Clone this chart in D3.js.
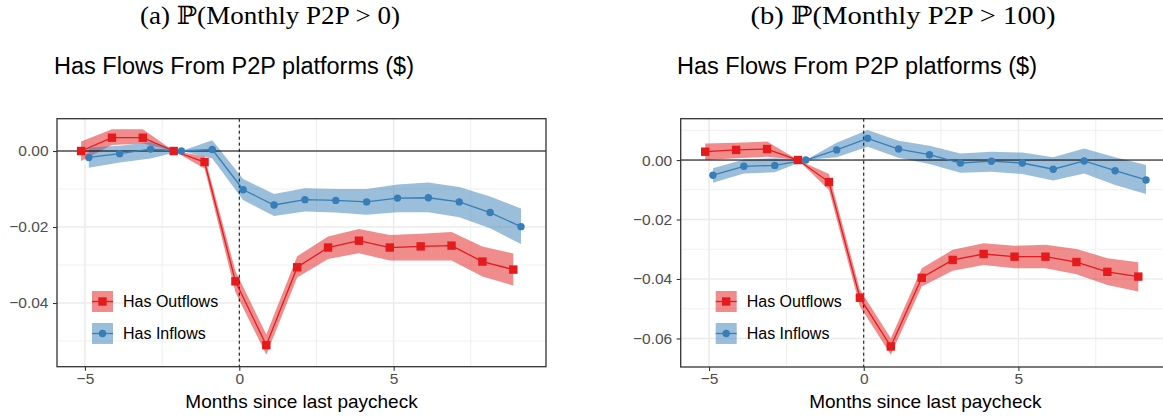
<!DOCTYPE html>
<html><head><meta charset="utf-8">
<script src="https://cdn.jsdelivr.net/npm/d3@7"></script>
<style>
html,body{margin:0;padding:0;background:#fff;}
svg{display:block;}
</style></head>
<body>
<svg id="chart" width="1163" height="417"></svg>
<script>
// ---------- data ----------
const months = [-5,-4,-3,-2,-1,0,1,2,3,4,5,6,7,8,9];
const seriesNames = ["Has Outflows","Has Inflows"];
const subTitles = ["(a) \u2119(Monthly P2P > 0)", "(b) \u2119(Monthly P2P > 100)"];
const plotTitle = "Has Flows From P2P platforms ($)";
const xLabel = "Months since last paycheck";
const xTicks = [-5,0,5];
const yTicksA = [0,-0.02,-0.04];
const yTicksB = [0,-0.02,-0.04,-0.06];

// panel (a)
const aOutEst = [0,0.0035,0.0035,0,-0.0029,-0.0343,-0.0511,-0.0306,-0.0254,-0.0236,-0.0254,-0.0251,-0.0249,-0.0291,-0.0312];
const aOutLo  = [-0.0026,0.0016,0.002,0,-0.0046,-0.0372,-0.0536,-0.0333,-0.0284,-0.0269,-0.0288,-0.0288,-0.0288,-0.033,-0.0354];
const aOutHi  = [0.0025,0.0057,0.0057,0,-0.0014,-0.0316,-0.0483,-0.0277,-0.0225,-0.0205,-0.0221,-0.0218,-0.0213,-0.0251,-0.027];
const aInEst  = [-0.0017,-0.0007,0.0005,0,0.0004,-0.0102,-0.0142,-0.0128,-0.013,-0.0134,-0.0124,-0.0123,-0.0134,-0.0162,-0.0199];
const aInLo   = [-0.0044,-0.003,-0.002,0,-0.002,-0.0129,-0.0171,-0.0159,-0.0162,-0.0168,-0.0161,-0.0161,-0.0174,-0.0203,-0.0245];
const aInHi   = [0.0009,0.0014,0.0024,0,0.0028,-0.0074,-0.0113,-0.0098,-0.01,-0.01,-0.0088,-0.0083,-0.0095,-0.012,-0.0151];

// panel (b)
const bOutEst = [0.0028,0.0034,0.0037,0,-0.0074,-0.0463,-0.0627,-0.0396,-0.0336,-0.0316,-0.0325,-0.0325,-0.0343,-0.0376,-0.0392];
const bOutLo  = [0.0,0.0006,0.0011,0,-0.0101,-0.0492,-0.0655,-0.0425,-0.0372,-0.0353,-0.0364,-0.0364,-0.0384,-0.042,-0.0442];
const bOutHi  = [0.0056,0.0058,0.0062,0,-0.0047,-0.0435,-0.0599,-0.0364,-0.0302,-0.028,-0.0288,-0.0285,-0.0299,-0.033,-0.0344];
const bInEst  = [-0.0051,-0.0021,-0.0018,0,0.0034,0.0073,0.0037,0.0018,-0.001,-0.0004,-0.001,-0.0031,-0.0003,-0.0036,-0.0067];
const bInLo   = [-0.0076,-0.0045,-0.0041,0,0.0009,0.0045,0.0008,-0.0013,-0.0043,-0.0039,-0.0047,-0.0069,-0.0045,-0.0084,-0.0114];
const bInHi   = [-0.0028,0.0002,0.0006,0,0.0058,0.0101,0.0065,0.0048,0.0022,0.0028,0.0025,0.0009,0.0039,0.0009,-0.0017];

// ---------- drawing ----------
const RED = "#E41A1C", BLUE = "#377EB8";
const SANS = "'Liberation Sans', Arial, Helvetica, sans-serif";
const SERIF = "'Liberation Serif', 'DejaVu Serif', serif";
const svg = d3.select("#chart");

const panels = [
  {x0:57, x1:546, y0:118.7, y1:366.7, xd:[-5.905,9.935], yd:[-0.05676,0.0085],
   yTicks:yTicksA, yMinor:[-0.01,-0.03,-0.05], sub:subTitles[0], subX:270, subW:260, titleX:54,
   series:[{name:seriesNames[0], est:aOutEst, lo:aOutLo, hi:aOutHi, color:RED, dodge:-0.125, shape:"square"},
           {name:seriesNames[1], est:aInEst, lo:aInLo, hi:aInHi, color:BLUE, dodge:0.125, shape:"circle"}]},
  {x0:680.7, x1:1170, y0:118.7, y1:367, xd:[-5.917,9.9], yd:[-0.0696,0.0139],
   yTicks:yTicksB, yMinor:[0.01,-0.01,-0.03,-0.05], sub:subTitles[1], subX:903, subW:305, titleX:677,
   series:[{name:seriesNames[0], est:bOutEst, lo:bOutLo, hi:bOutHi, color:RED, dodge:-0.125, shape:"square"},
           {name:seriesNames[1], est:bInEst, lo:bInLo, hi:bInHi, color:BLUE, dodge:0.125, shape:"circle"}]}
];

const fmt = d3.format(".2f");

panels.forEach((p, pi) => {
  const x = d3.scaleLinear().domain(p.xd).range([p.x0, p.x1]);
  const y = d3.scaleLinear().domain(p.yd).range([p.y1, p.y0]);
  const g = svg.append("g");

  // subtitle (serif, LaTeX-like)
  g.append("text").attr("x", p.subX).attr("y", 24).attr("text-anchor","middle")
    .attr("font-family", SERIF).attr("font-size", 25).attr("fill","#000")
    .attr("textLength", p.subW).attr("lengthAdjust","spacingAndGlyphs")
    .text(p.sub);
  // plot title
  g.append("text").attr("x", p.titleX).attr("y", 74)
    .attr("font-family", SANS).attr("font-size", 23.5).attr("fill","#000")
    .text(plotTitle);

  const clipId = "clip"+pi;
  g.append("clipPath").attr("id", clipId).append("rect")
    .attr("x", p.x0).attr("y", p.y0).attr("width", p.x1-p.x0).attr("height", p.y1-p.y0);
  const inner = g.append("g").attr("clip-path", `url(#${clipId})`);

  // grid minor
  const xMinor = [-2.5, 2.5, 7.5];
  inner.selectAll(".gxm").data(xMinor).join("line")
    .attr("x1", d=>x(d)).attr("x2", d=>x(d)).attr("y1", p.y0).attr("y2", p.y1)
    .attr("stroke","#EBEBEB").attr("stroke-width",0.8);
  inner.selectAll(".gym").data(p.yMinor).join("line")
    .attr("y1", d=>y(d)).attr("y2", d=>y(d)).attr("x1", p.x0).attr("x2", p.x1)
    .attr("stroke","#EBEBEB").attr("stroke-width",0.8);
  // grid major
  inner.selectAll(".gx").data(xTicks).join("line")
    .attr("x1", d=>x(d)).attr("x2", d=>x(d)).attr("y1", p.y0).attr("y2", p.y1)
    .attr("stroke","#EBEBEB").attr("stroke-width",1.5);
  inner.selectAll(".gy").data(p.yTicks).join("line")
    .attr("y1", d=>y(d)).attr("y2", d=>y(d)).attr("x1", p.x0).attr("x2", p.x1)
    .attr("stroke","#EBEBEB").attr("stroke-width",1.5);

  // ribbons
  p.series.forEach(s => {
    const pts = months.map((m,i)=>({m:m+s.dodge, lo:s.lo[i], hi:s.hi[i]}));
    inner.append("path").datum(pts)
      .attr("d", d3.area().x(d=>x(d.m)).y0(d=>y(d.lo)).y1(d=>y(d.hi)))
      .attr("fill", s.color).attr("fill-opacity", 0.5).attr("stroke","none");
  });

  // reference lines
  inner.append("line").attr("x1",p.x0).attr("x2",p.x1).attr("y1",y(0)).attr("y2",y(0))
    .attr("stroke","#000").attr("stroke-width",1);
  inner.append("line").attr("x1",x(0)).attr("x2",x(0)).attr("y1",p.y0).attr("y2",p.y1)
    .attr("stroke","#000").attr("stroke-width",1).attr("stroke-dasharray","3,3");

  // lines
  p.series.forEach(s => {
    const pts = months.map((m,i)=>({m:m+s.dodge, v:s.est[i]}));
    inner.append("path").datum(pts)
      .attr("d", d3.line().x(d=>x(d.m)).y(d=>y(d.v)))
      .attr("fill","none").attr("stroke", s.color).attr("stroke-width", 1.3);
  });
  // points
  p.series.forEach(s => {
    const pts = months.map((m,i)=>({m:m+s.dodge, v:s.est[i]}));
    if (s.shape === "square") {
      inner.selectAll(null).data(pts).join("rect")
        .attr("x", d=>x(d.m)-4.2).attr("y", d=>y(d.v)-4.2).attr("width",8.4).attr("height",8.4)
        .attr("fill", s.color);
    } else {
      inner.selectAll(null).data(pts).join("circle")
        .attr("cx", d=>x(d.m)).attr("cy", d=>y(d.v)).attr("r",3.7).attr("fill", s.color);
    }
  });

  // legend
  p.series.forEach((s, si) => {
    const ky = 291 + si*32, kx = p.x0 + 35;
    const lg = g.append("g");
    lg.append("rect").attr("x",kx).attr("y",ky).attr("width",21).attr("height",21)
      .attr("fill", s.color).attr("fill-opacity",0.5);
    lg.append("line").attr("x1",kx).attr("x2",kx+21).attr("y1",ky+10.5).attr("y2",ky+10.5)
      .attr("stroke", s.color).attr("stroke-width",1.3);
    if (s.shape === "square") {
      lg.append("rect").attr("x",kx+10.5-4.2).attr("y",ky+10.5-4.2).attr("width",8.4).attr("height",8.4).attr("fill",s.color);
    } else {
      lg.append("circle").attr("cx",kx+10.5).attr("cy",ky+10.5).attr("r",3.7).attr("fill",s.color);
    }
    lg.append("text").attr("x", kx+31).attr("y", ky+16.3)
      .attr("font-family", SANS).attr("font-size", 16).attr("fill","#000").text(s.name);
  });

  // border
  g.append("rect").attr("x",p.x0).attr("y",p.y0).attr("width",p.x1-p.x0).attr("height",p.y1-p.y0)
    .attr("fill","none").attr("stroke","#333").attr("stroke-width",1.3);

  // axes
  const xAxis = d3.axisBottom(x).tickValues(xTicks).tickSize(4).tickPadding(2)
    .tickFormat(d => d < 0 ? "\u2212" + Math.abs(d) : String(d));
  const xg = g.append("g").attr("transform", `translate(0,${p.y1})`).call(xAxis);
  const yAxis = d3.axisLeft(y).tickValues(p.yTicks).tickSize(4).tickPadding(4.5).tickFormat(fmt);
  const yg = g.append("g").attr("transform", `translate(${p.x0},0)`).call(yAxis);
  [xg, yg].forEach(a => {
    a.select(".domain").remove();
    a.selectAll(".tick line").attr("stroke","#333").attr("stroke-width",1.1);
    a.selectAll(".tick text").attr("fill","#4D4D4D").attr("font-family",SANS).attr("font-size",15.5);
  });

  g.append("text").attr("x",(p.x0+p.x1)/2).attr("y",408).attr("text-anchor","middle")
    .attr("font-family",SANS).attr("font-size",19).attr("fill","#000").text(xLabel);
});
</script>
</body></html>
